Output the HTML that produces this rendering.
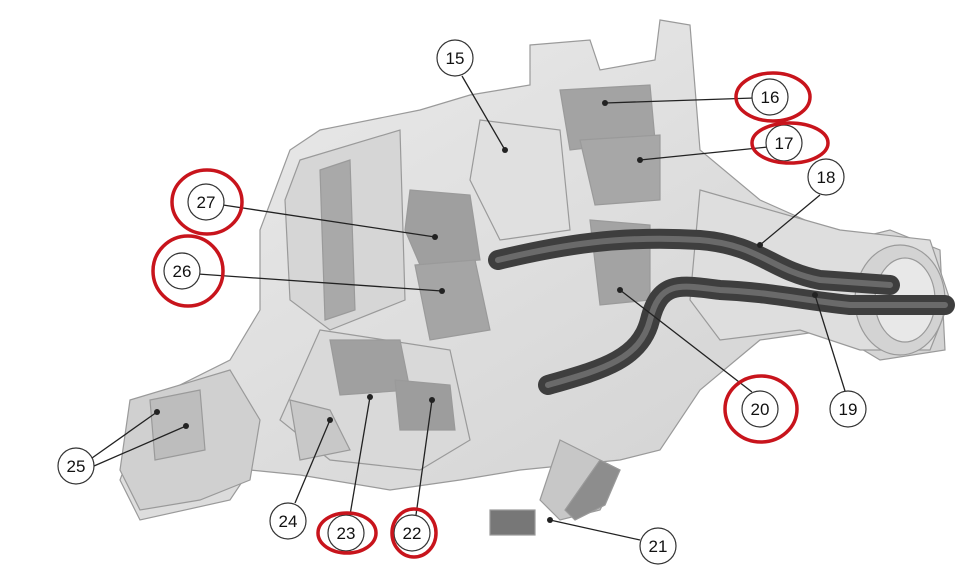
<!DOCTYPE html>
<html><head><style>
html,body{margin:0;padding:0;background:#fff;}
svg{display:block;}
text{font-family:"Liberation Sans",sans-serif;font-size:17px;fill:#111;text-anchor:middle;}
</style></head><body>
<svg width="964" height="570" viewBox="0 0 964 570">
<defs>
<linearGradient id="g1" x1="0" y1="0" x2="1" y2="1"><stop offset="0" stop-color="#ececec"/><stop offset="1" stop-color="#cfcfcf"/></linearGradient>
</defs>
<!-- main housing -->
<g stroke="#9a9a9a" stroke-width="1.2">
<polygon points="530,45 590,40 600,70 655,60 660,20 690,25 700,150 760,200 850,240 890,230 940,250 945,350 880,360 830,330 760,340 700,390 660,450 620,460 520,470 460,480 390,490 300,475 250,470 230,500 140,520 120,480 150,400 230,360 260,310 260,230 290,150 320,130 420,110 470,95 530,85" fill="url(#g1)"/>
<polygon points="300,160 400,130 405,300 330,330 290,300 285,200" fill="#d6d6d6"/>
<polygon points="320,170 350,160 355,310 325,320" fill="#a9a9a9"/>
<polygon points="480,120 560,130 570,230 500,240 470,180" fill="#e0e0e0"/>
<polygon points="700,190 840,230 930,240 950,300 930,350 860,350 800,330 720,340 690,300" fill="#dedede"/>
<ellipse cx="900" cy="300" rx="45" ry="55" fill="#d3d3d3"/>
<ellipse cx="905" cy="300" rx="30" ry="42" fill="#e8e8e8"/>
<polygon points="130,400 230,370 260,420 250,480 200,500 140,510 120,470" fill="#d0d0d0"/>
<polygon points="150,400 200,390 205,450 155,460" fill="#bdbdbd"/>
<polygon points="320,330 450,350 470,440 420,470 330,460 280,420" fill="#d9d9d9"/>
<polygon points="290,400 330,410 350,450 300,460" fill="#c8c8c8"/>
<polygon points="560,440 620,470 600,510 560,520 540,500" fill="#c7c7c7"/>
<polygon points="600,460 620,470 605,505 575,520 565,510" fill="#8d8d8d"/>
<rect x="490" y="510" width="45" height="25" fill="#777"/>
<!-- actuators -->
<polygon points="410,190 470,195 480,260 420,265 405,230" fill="#9f9f9f"/>
<polygon points="415,265 475,260 490,330 430,340" fill="#a5a5a5"/>
<polygon points="330,340 400,340 410,390 340,395" fill="#a0a0a0"/>
<polygon points="395,380 450,385 455,430 400,430" fill="#9d9d9d"/>
<polygon points="560,90 650,85 655,140 570,150" fill="#a3a3a3"/>
<polygon points="580,140 660,135 660,200 595,205" fill="#a7a7a7"/>
<polygon points="590,220 650,225 650,300 600,305" fill="#a3a3a3"/>
</g>
<!-- hoses -->
<g fill="none" stroke-linecap="round">
<path d="M498,260 C560,245 620,235 700,240 C760,245 770,270 820,280 L890,285" stroke="#3e3e3e" stroke-width="20"/>
<path d="M548,385 C600,370 640,360 650,320 C660,280 680,285 720,290 C770,292 800,300 850,305 L945,305" stroke="#3e3e3e" stroke-width="20"/>
<path d="M498,260 C560,245 620,235 700,240 C760,245 770,270 820,280 L890,285" stroke="#6a6a6a" stroke-width="6"/>
<path d="M548,385 C600,370 640,360 650,320 C660,280 680,285 720,290 C770,292 800,300 850,305 L945,305" stroke="#6a6a6a" stroke-width="6"/>
</g>
<!-- leader lines -->
<g stroke="#222" stroke-width="1.3">
<line x1="462" y1="76" x2="505" y2="150"/>
<line x1="754" y1="98" x2="605" y2="103"/>
<line x1="768" y1="147" x2="640" y2="160"/>
<line x1="820" y1="195" x2="760" y2="245"/>
<line x1="845" y1="391" x2="815" y2="295"/>
<line x1="752" y1="392" x2="620" y2="290"/>
<line x1="640" y1="540" x2="550" y2="520"/>
<line x1="416" y1="515" x2="432" y2="400"/>
<line x1="350" y1="515" x2="370" y2="397"/>
<line x1="295" y1="503" x2="330" y2="420"/>
<line x1="92" y1="458" x2="157" y2="412"/>
<line x1="94" y1="466" x2="186" y2="426"/>
<line x1="198" y1="274" x2="442" y2="291"/>
<line x1="223" y1="205" x2="435" y2="237"/>
</g>
<g fill="#222">
<circle cx="505" cy="150" r="3"/><circle cx="605" cy="103" r="3"/><circle cx="640" cy="160" r="3"/><circle cx="760" cy="245" r="3"/><circle cx="815" cy="295" r="3"/><circle cx="620" cy="290" r="3"/><circle cx="550" cy="520" r="3"/><circle cx="432" cy="400" r="3"/><circle cx="370" cy="397" r="3"/><circle cx="330" cy="420" r="3"/><circle cx="157" cy="412" r="3"/><circle cx="186" cy="426" r="3"/><circle cx="442" cy="291" r="3"/><circle cx="435" cy="237" r="3"/>
</g>
<!-- callouts -->
<g fill="#fff" stroke="#333" stroke-width="1.2">
<circle cx="455" cy="58" r="18"/><circle cx="770" cy="97" r="18"/><circle cx="784" cy="143" r="18"/><circle cx="826" cy="177" r="18"/><circle cx="848" cy="409" r="18"/><circle cx="760" cy="409" r="18"/><circle cx="658" cy="546" r="18"/><circle cx="412" cy="533" r="18"/><circle cx="346" cy="533" r="18"/><circle cx="288" cy="521" r="18"/><circle cx="76" cy="466" r="18"/><circle cx="182" cy="271" r="18"/><circle cx="206" cy="202" r="18"/>
</g>
<g fill="none" stroke="#c8141c" stroke-width="3.5">
<ellipse cx="773" cy="97" rx="37" ry="24"/>
<ellipse cx="790" cy="143" rx="38" ry="20"/>
<ellipse cx="761" cy="409" rx="36" ry="33"/>
<ellipse cx="414" cy="533" rx="22" ry="24"/>
<ellipse cx="347" cy="533" rx="29" ry="20"/>
<ellipse cx="188" cy="271" rx="35" ry="35"/>
<ellipse cx="207" cy="202" rx="35" ry="32"/>
</g>
<g>
<text x="455" y="64">15</text><text x="770" y="103">16</text><text x="784" y="149">17</text><text x="826" y="183">18</text><text x="848" y="415">19</text><text x="760" y="415">20</text><text x="658" y="552">21</text><text x="412" y="539">22</text><text x="346" y="539">23</text><text x="288" y="527">24</text><text x="76" y="472">25</text><text x="182" y="277">26</text><text x="206" y="208">27</text>
</g>
</svg>
</body></html>
